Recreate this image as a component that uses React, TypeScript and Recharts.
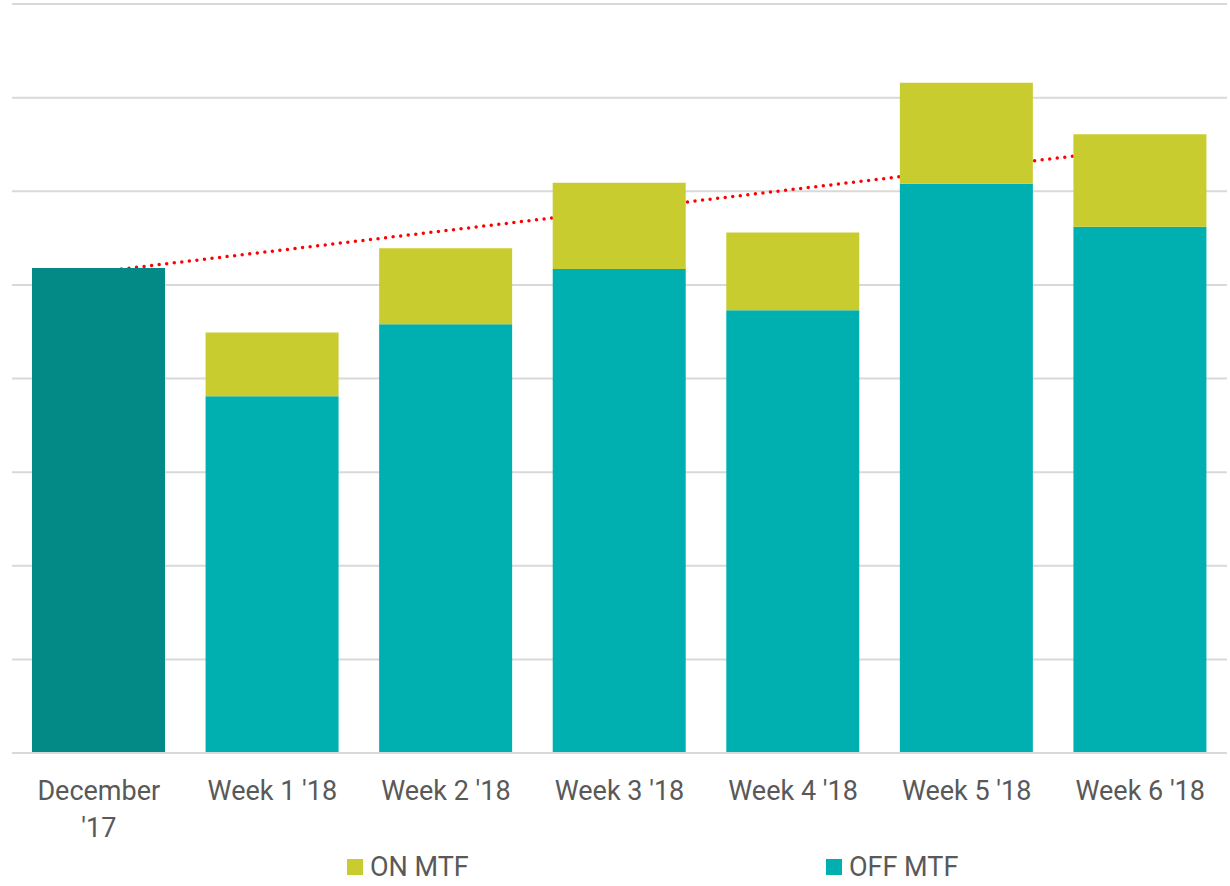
import { ComposedChart, Bar, Line, XAxis, YAxis, CartesianGrid, Legend, Cell } from "recharts";

const categories = ["December '17", "Week 1 '18", "Week 2 '18", "Week 3 '18", "Week 4 '18", "Week 5 '18", "Week 6 '18"];
const offMtf = [5.18, 3.81, 4.58, 5.17, 4.73, 6.08, 5.62];
const onMtf = [null, 0.68, 0.81, 0.92, 0.83, 1.08, 0.99];
const trend = [5.14, null, null, null, null, null, 6.46];
const yTicks = [0, 1, 2, 3, 4, 5, 6, 7, 8];

const data = categories.map((name, i) => ({
  name,
  off: offMtf[i],
  on: onMtf[i],
  trend: trend[i],
}));

const FONT = "Roboto, 'Noto Sans', sans-serif";
const TEXT = "#595959";
const W = 1230;
const H = 886;
const MARGIN = { top: 4, right: 3, left: 12 };

const CategoryTick = (props: any) => {
  const { x, y, payload } = props;
  const label: string = payload.value;
  const cut = label.lastIndexOf(" ");
  const lines = label.length > 11 ? [label.slice(0, cut), label.slice(cut + 1)] : [label];
  return (
    <text x={x} y={y} textAnchor="middle" fill={TEXT} fontFamily={FONT} fontSize={27}>
      {lines.map((l, i) => (
        <tspan key={i} x={x} dy={i === 0 ? 47 : 37}>
          {l}
        </tspan>
      ))}
    </text>
  );
};

const LegendContent = () => {
  const items = [
    { label: "ON MTF", color: "#C9CC2E", left: 347 },
    { label: "OFF MTF", color: "#00AFB0", left: 826 },
  ];
  return (
    <div style={{ position: "relative", height: 40, fontFamily: FONT, fontSize: 27, color: TEXT }}>
      {items.map((it) => (
        <div key={it.label} style={{ position: "absolute", left: it.left, top: 6, display: "flex", alignItems: "center", whiteSpace: "nowrap" }}>
          <span style={{ display: "inline-block", width: 16, height: 16, background: it.color, marginRight: 7 }} />
          <span style={{ lineHeight: "30px" }}>{it.label}</span>
        </div>
      ))}
    </div>
  );
};

export default function App() {
  return (
    <div style={{ position: "absolute", left: 0, top: 0, width: W, height: H, background: "#fff" }}>
      {/* grid + trend line underneath, bars drawn over it */}
      <div style={{ position: "absolute", left: 0, top: 0 }}>
        <ComposedChart width={W} height={H} data={data} margin={{ ...MARGIN, bottom: 133 }}>
          <CartesianGrid vertical={false} stroke="#D9D9D9" strokeWidth={2} />
          <XAxis dataKey="name" hide scale="band" />
          <YAxis hide domain={[0, 8]} ticks={yTicks} />
          <Line
            type="linear"
            dataKey="trend"
            stroke="#FF0000"
            strokeWidth={3.5}
            strokeDasharray="0 7.6"
            strokeLinecap="round"
            dot={false}
            activeDot={false}
            connectNulls
            isAnimationActive={false}
          />
        </ComposedChart>
      </div>
      <div style={{ position: "absolute", left: 0, top: 0 }}>
        <ComposedChart width={W} height={H} data={data} margin={{ ...MARGIN, bottom: 0 }} barSize={133}>
          <XAxis
            dataKey="name"
            height={93}
            axisLine={{ stroke: "#D9D9D9", strokeWidth: 2 }}
            tickLine={false}
            tickSize={0}
            tickMargin={0}
            interval={0}
            tick={<CategoryTick />}
          />
          <YAxis hide domain={[0, 8]} ticks={yTicks} />
          <Bar dataKey="off" stackId="a" fill="#00AFB0" isAnimationActive={false}>
            {data.map((d, i) => (
              <Cell key={d.name} fill={i === 0 ? "#038A86" : "#00AFB0"} />
            ))}
          </Bar>
          <Bar dataKey="on" stackId="a" fill="#C9CC2E" isAnimationActive={false} />
          <Legend
            verticalAlign="bottom"
            height={40}
            content={<LegendContent />}
            wrapperStyle={{ left: 0, bottom: 0, width: W, height: 40 }}
          />
        </ComposedChart>
      </div>
    </div>
  );
}
